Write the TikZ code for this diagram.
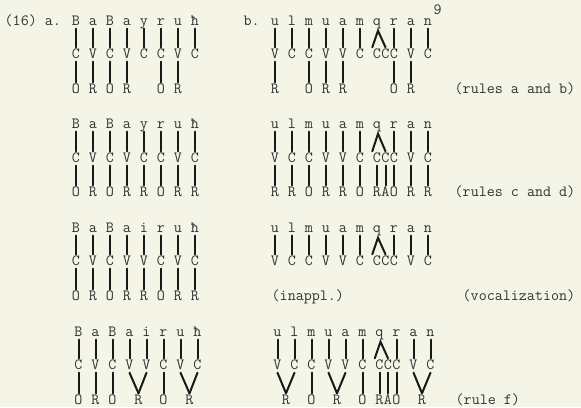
\documentclass[tikz,border=0pt]{standalone}
\usepackage{fontspec}
\usepackage{tikz}
\usepackage{xcolor}
\definecolor{paper}{RGB}{244,245,231}
\definecolor{ink}{RGB}{50,50,50}
\definecolor{pen}{RGB}{25,25,25}

\newcommand{\segrow}[3]{%
  \foreach \x/\s [count=\i] in {#3} {\node[seg] (#1\i) at (\x,#2) {\s};}}

\begin{document}
\begin{tikzpicture}[
    x=1pt, y=-1pt,
    every node/.style={font=\ttfamily\fontsize{15.6}{18}\selectfont, text=ink, inner sep=0.5pt},
    seg/.style={anchor=base, text height=10pt, text depth=3pt},
    note/.style={anchor=base west},
    link/.style={draw=pen, line width=2pt, line cap=round},
]
\fill[paper] (0,0) rectangle (581,407);
\useasboundingbox (0,0) rectangle (581,407);

\node[note] (num) at (4,25) {(16) a.};
\node[note] (bmark) at (243,25) {b.};
\node[note] (foot) at (433,14) {9};

\segrow{t1a}{25}{76/B,93/a,110/B,127/a,144/y,161/r,178/u,195/ħ}
\segrow{m1a}{58}{76/C,93/V,110/C,127/V,144/C,161/C,178/V,195/C}
\segrow{b1a}{93}{76/O,93/R,110/O,127/R,161/O,178/R}
\segrow{t1b}{25}{275/u,292/l,309/m,326/u,343/a,360/m,377/q,394/r,411/a,428/n}
\segrow{m1b}{58}{275/V,292/C,309/C,326/V,343/V,360/C,377/C,385.5/C,394/C,411/V,428/C}
\segrow{b1b}{93}{275/R,309/O,326/R,343/R,394/O,411/R}
\node[note] (r1) at (454,93) {(rules a and b)};

\segrow{t2a}{128}{76/B,93/a,110/B,127/a,144/y,161/r,178/u,195/ħ}
\segrow{m2a}{162}{76/C,93/V,110/C,127/V,144/C,161/C,178/V,195/C}
\segrow{b2a}{196}{76/O,93/R,110/O,127/R,144/R,161/O,178/R,195/R}
\segrow{t2b}{128}{275/u,292/l,309/m,326/u,343/a,360/m,377/q,394/r,411/a,428/n}
\segrow{m2b}{162}{275/V,292/C,309/C,326/V,343/V,360/C,377/C,385.5/C,394/C,411/V,428/C}
\segrow{b2b}{196}{275/R,292/R,309/O,326/R,343/R,360/O,377/R,385.5/A,394/O,411/R,428/R}
\node[note] (r2) at (454,196) {(rules c and d)};

\segrow{t3a}{232}{76/B,93/a,110/B,127/a,144/i,161/r,178/u,195/ħ}
\segrow{m3a}{265}{76/C,93/V,110/C,127/V,144/V,161/C,178/V,195/C}
\segrow{b3a}{300}{76/O,93/R,110/O,127/R,144/R,161/O,178/R,195/R}
\segrow{t3b}{232}{275/u,292/l,309/m,326/u,343/a,360/m,377/q,394/r,411/a,428/n}
\segrow{m3b}{265}{275/V,292/C,309/C,326/V,343/V,360/C,377/C,385.5/C,394/C,411/V,428/C}
\node[note] (inap) at (271,300) {(inappl.)};
\node[note] (r3) at (462,300) {(vocalization)};

\begin{scope}[xshift=2.5pt]
\segrow{t4a}{336}{76/B,93/a,110/B,127/a,144/i,161/r,178/u,195/ħ}
\segrow{m4a}{369}{76/C,93/V,110/C,127/V,144/V,161/C,178/V,195/C}
\segrow{b4a}{404}{76/O,93/R,110/O,136/R,161/O,187/R}
\segrow{t4b}{336}{275/u,292/l,309/m,326/u,343/a,360/m,377/q,394/r,411/a,428/n}
\segrow{m4b}{369}{275/V,292/C,309/C,326/V,343/V,360/C,377/C,385.5/C,394/C,411/V,428/C}
\segrow{b4b}{404}{283.5/R,309/O,334.5/R,360/O,377/R,385.5/A,394/O,419.5/R}
\end{scope}
\node[note] (r4) at (455,404) {(rule f)};

\foreach \r in {1,...,4} {
  \foreach \i in {1,...,8} \draw[link] (t\r a\i.south) -- (m\r a\i.north);
  \foreach \u/\v in {1/1,2/2,3/3,4/4,5/5,6/6,8/9,9/10,10/11}
    \draw[link] (t\r b\u.south) -- (m\r b\v.north);
  \draw[link] (m\r b7.north west) -- ([xshift=1pt,yshift=-2pt]t\r b7.south) -- (m\r b8.north);
}

\foreach \u/\v in {1/1,2/2,3/3,4/4,6/5,7/6} \draw[link] (m1a\u.south) -- (b1a\v.north);
\foreach \u/\v in {1/1,3/2,4/3,5/4,9/5,10/6} \draw[link] (m1b\u.south) -- (b1b\v.north);
\foreach \i in {1,...,8} \draw[link] (m2a\i.south) -- (b2a\i.north);
\foreach \i in {1,...,11} \draw[link] (m2b\i.south) -- (b2b\i.north);
\foreach \i in {1,...,8} \draw[link] (m3a\i.south) -- (b3a\i.north);
\foreach \u/\v in {1/1,2/2,3/3,4/4,5/4,6/5,7/6,8/6} \draw[link] (m4a\u.south) -- (b4a\v.north);
\foreach \u/\v in {1/1,2/1,3/2,4/3,5/3,6/4,7/5,8/6,9/7,10/8,11/8}
  \draw[link] (m4b\u.south) -- (b4b\v.north);
\end{tikzpicture}
\end{document}
